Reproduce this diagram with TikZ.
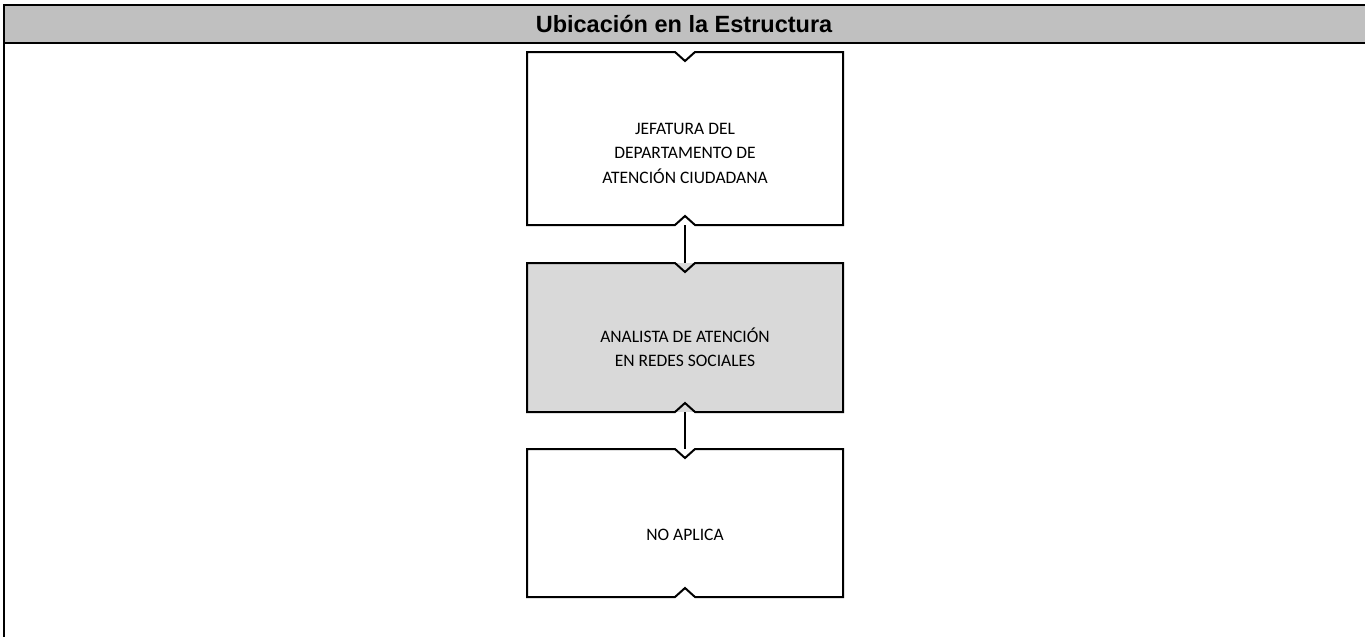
\documentclass[tikz,border=0pt]{standalone}
\usepackage{fontspec}
\setmainfont{Carlito}
\newfontfamily\titlefont{Liberation Sans}
\definecolor{hdrgray}{RGB}{192,192,192}
\definecolor{boxgray}{RGB}{217,217,217}
\begin{document}
\begin{tikzpicture}[x=1pt,y=-1pt,
  orgbox/.style={minimum width=316pt,minimum height=#1,inner sep=0pt,outer sep=0pt,draw=none},
  boxtext/.style={align=center,font=\fontsize{17.5}{24.5}\selectfont,inner sep=0pt},
  edge/.style={line width=2pt,line join=miter},
  conn/.style={line width=2pt}]
\useasboundingbox (0,0) rectangle (1365,637);
% frame and header
\fill[hdrgray] (4,5) rectangle (1366,43);
\draw[line width=2pt] (4,5) -- (1366,5);
\draw[line width=2pt] (4,43) -- (1366,43);
\draw[line width=2pt] (4,4) -- (4,638);
\node[font=\titlefont\bfseries\fontsize{23.5}{28}\selectfont] (title) at (684,24) {Ubicación en la Estructura};
% boxes
\node[orgbox=173pt,fill=white] (b1) at (685,138.5) {};
\node[orgbox=149pt,fill=boxgray] (b2) at (685,337.5) {};
\node[orgbox=148pt,fill=white] (b3) at (685,523) {};
\foreach \b in {b1,b2,b3}{
  \draw[edge] (\b.north west) -- ([xshift=-10pt]\b.north) -- ([yshift=-9pt]\b.north) -- ([xshift=10pt]\b.north) -- (\b.north east)
     -- (\b.south east) -- ([xshift=10pt]\b.south) -- ([yshift=9pt]\b.south) -- ([xshift=-10pt]\b.south) -- (\b.south west) -- cycle;
}
\node[boxtext] (t1) at (685,153) {JEFATURA DEL\\DEPARTAMENTO DE\\ATENCIÓN CIUDADANA};
\node[boxtext] (t2) at (685,347) {ANALISTA DE ATENCIÓN\\EN REDES SOCIALES};
\node[boxtext] (t3) at (685,535) {NO APLICA};
% connectors
\draw[conn] (b1.south) -- (b2.north);
\draw[conn] (b2.south) -- (b3.north);
\end{tikzpicture}
\end{document}
